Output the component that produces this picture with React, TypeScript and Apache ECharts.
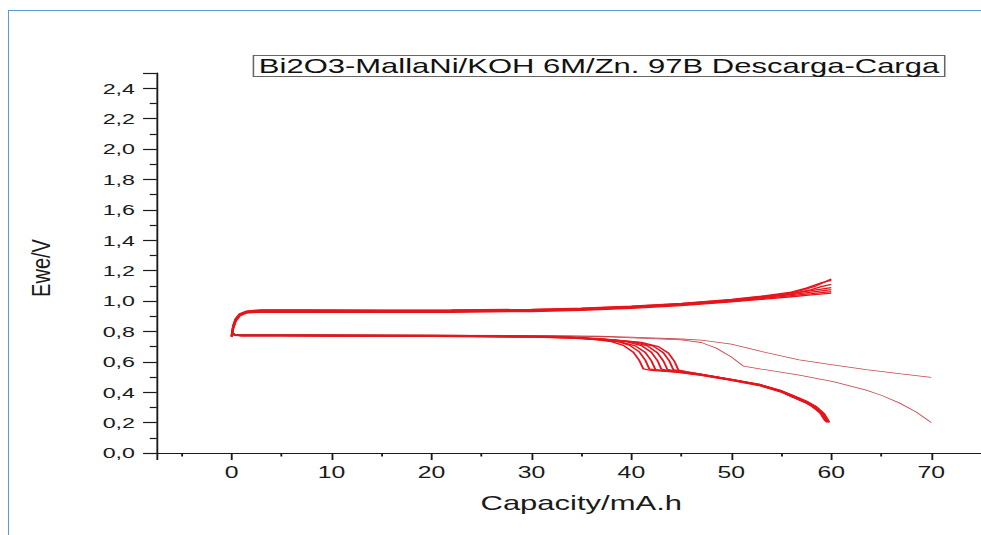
import React, { useEffect, useRef } from "react";
import * as echarts from "echarts";

// The reference picture is horizontally stretched; we draw in a narrower box and stretch it.
const S = 1.55;
const W = 981 / S;

const titleText = "Bi2O3-MallaNi/KOH 6M/Zn. 97B Descarga-Carga";
const xName = "Capacity/mA.h";
const yName = "Ewe/V";

// Charge curves [capacity, voltage]
const charge1 = [[0,0.765],[0.15,0.82],[0.4,0.87],[0.8,0.905],[1.5,0.925],[3,0.932],[8,0.931],[15,0.93],[22,0.931],[30,0.936],[35,0.943],[40,0.956],[45,0.974],[50,0.998],[53,1.015],[56,1.035],[58,1.048],[60,1.062]];
const charge2 = [[0,0.77],[0.15,0.83],[0.4,0.875],[0.8,0.91],[1.5,0.928],[3,0.937],[8,0.936],[15,0.935],[22,0.936],[30,0.94],[35,0.948],[40,0.96],[45,0.979],[50,1.005],[53,1.022],[56,1.042],[58,1.058],[60,1.075]];
const charge3 = [[0,0.772],[0.15,0.835],[0.4,0.88],[0.8,0.913],[1.5,0.932],[3,0.94],[8,0.939],[15,0.938],[22,0.939],[30,0.943],[35,0.951],[40,0.964],[45,0.983],[50,1.008],[53,1.028],[56,1.05],[58,1.068],[60,1.088]];
const charge4 = [[0,0.768],[0.15,0.825],[0.4,0.872],[0.8,0.908],[1.5,0.926],[3,0.933],[8,0.932],[15,0.931],[22,0.932],[30,0.937],[35,0.944],[40,0.957],[45,0.975],[50,1.0],[53,1.02],[56,1.045],[58,1.075],[59,1.095],[60,1.11]];
const charge5 = [[0,0.775],[0.15,0.84],[0.4,0.885],[0.8,0.916],[1.5,0.934],[3,0.942],[8,0.941],[15,0.94],[22,0.941],[30,0.945],[35,0.953],[40,0.966],[45,0.985],[50,1.01],[53,1.032],[56,1.058],[57.5,1.085],[59,1.12],[60,1.135]];
const charge6 = [[0,0.762],[0.15,0.815],[0.4,0.865],[0.8,0.902],[1.5,0.921],[3,0.927],[8,0.926],[15,0.925],[22,0.926],[30,0.931],[35,0.938],[40,0.951],[45,0.969],[50,0.994],[53,1.01],[56,1.028],[58,1.04],[60,1.052]];
const charge7 = [[0,0.77],[0.15,0.83],[0.4,0.878],[0.8,0.911],[1.5,0.929],[3,0.936],[8,0.935],[15,0.934],[22,0.935],[30,0.939],[35,0.947],[40,0.96],[45,0.979],[50,1.005],[55,1.04],[57,1.07],[58.5,1.1],[60,1.145]];

// Discharge curves (main bundle)
const discharge1 = [[0,0.79],[0.3,0.776],[1,0.772],[5,0.772],[10,0.771],[20,0.769],[30,0.764],[34,0.758],[36,0.75],[38,0.733],[39.2,0.708],[40.2,0.663],[40.8,0.608],[41.2,0.553],[42,0.543],[44.5,0.533],[47,0.513],[50,0.48],[52.8,0.446],[55,0.403],[56.1,0.37],[57.5,0.33],[58.2,0.303],[59,0.26],[59.5,0.205]];
const discharge2 = [[0,0.792],[0.3,0.779],[1,0.775],[5,0.775],[10,0.774],[20,0.772],[30,0.767],[34,0.761],[36.5,0.75],[38.5,0.735],[39.8,0.71],[40.8,0.665],[41.4,0.61],[41.8,0.553],[42.5,0.546],[44.5,0.536],[47,0.516],[50,0.483],[52.8,0.449],[55,0.407],[56.1,0.375],[57.5,0.335],[58.3,0.305],[59.1,0.26],[59.6,0.205]];
const discharge3 = [[0,0.788],[0.3,0.774],[1,0.77],[5,0.77],[10,0.769],[20,0.767],[30,0.762],[34,0.756],[37,0.745],[39,0.73],[40.4,0.705],[41.4,0.661],[42,0.607],[42.4,0.549],[43,0.542],[44.5,0.532],[47,0.511],[50,0.478],[52.8,0.444],[55,0.401],[56.2,0.367],[57.6,0.327],[58.4,0.297],[59.2,0.253],[59.7,0.205]];
const discharge4 = [[0,0.791],[0.3,0.781],[1,0.777],[5,0.777],[10,0.776],[20,0.774],[30,0.769],[34,0.763],[37,0.753],[39.5,0.733],[41,0.707],[42,0.663],[42.6,0.609],[43,0.551],[43.6,0.544],[45,0.533],[47,0.518],[50,0.485],[52.8,0.451],[55,0.409],[56.2,0.377],[57.6,0.337],[58.4,0.307],[59.2,0.263],[59.8,0.205]];
const discharge5 = [[0,0.787],[0.3,0.776],[1,0.772],[5,0.772],[10,0.771],[20,0.769],[30,0.764],[34,0.758],[37.5,0.746],[40,0.731],[41.6,0.705],[42.6,0.66],[43.2,0.606],[43.6,0.55],[44.2,0.542],[45.5,0.53],[47,0.515],[50,0.481],[52.8,0.446],[55,0.403],[56,0.372],[57.4,0.333],[58.1,0.305],[58.9,0.262],[59.4,0.21]];
const discharge6 = [[0,0.79],[0.3,0.778],[1,0.774],[5,0.774],[10,0.773],[20,0.771],[30,0.766],[34,0.76],[38,0.745],[40.5,0.73],[42.2,0.703],[43.2,0.66],[43.8,0.605],[44.2,0.548],[45,0.538],[47,0.518],[50,0.485],[52.8,0.451],[55,0.41],[56.2,0.378],[57.6,0.338],[58.5,0.305],[59.3,0.258],[59.8,0.2]];
const discharge7 = [[0,0.789],[0.3,0.777],[1,0.773],[5,0.773],[10,0.772],[20,0.77],[30,0.765],[34,0.759],[38.5,0.742],[41,0.728],[42.7,0.7],[43.7,0.658],[44.3,0.604],[44.7,0.546],[45.5,0.536],[47.5,0.512],[50,0.483],[52.8,0.449],[55,0.406],[56.1,0.374],[57.5,0.334],[58.3,0.304],[59.1,0.258],[59.6,0.2]];

// Two longer discharge cycles
const dischargeLongA = [[0,0.795],[0.3,0.782],[1,0.778],[10,0.777],[20,0.776],[30,0.774],[36.8,0.768],[40,0.762],[45,0.75],[47,0.742],[50,0.716],[53,0.668],[56.8,0.612],[60,0.582],[63.5,0.548],[67,0.52],[70,0.498]];
const dischargeLongB = [[0,0.795],[0.3,0.782],[1,0.778],[10,0.777],[20,0.775],[30,0.772],[36.8,0.765],[40,0.758],[45,0.744],[47,0.727],[48.5,0.69],[50,0.632],[51.2,0.572],[53,0.552],[56.8,0.513],[60.2,0.47],[63.5,0.414],[65,0.38],[66.8,0.33],[68.5,0.27],[70,0.2]];

const mainCurves = [charge1, charge2, charge3, charge4, charge5, charge6, charge7, discharge1, discharge2, discharge3, discharge4, discharge5, discharge6, discharge7];
const longCurves = [dischargeLongA, dischargeLongB];

const FONT = "'Liberation Sans', Arial, sans-serif";
const AXIS = "#1a1a1a";

export default function App() {
  const ref = useRef<HTMLDivElement>(null);
  useEffect(() => {
    if (!ref.current) return;
    const chart = echarts.init(ref.current, null, { renderer: "svg" });
    const series: any[] = [];
    mainCurves.forEach((d) =>
      series.push({
        type: "line",
        data: d,
        showSymbol: false,
        silent: true,
        lineStyle: { color: "#e8141c", width: 1.3 },
      })
    );
    longCurves.forEach((d) =>
      series.push({
        type: "line",
        data: d,
        showSymbol: false,
        silent: true,
        lineStyle: { color: "#c0282e", width: 0.8, opacity: 0.85 },
      })
    );
    chart.setOption({
      animation: false,
      title: {
        text: titleText,
        left: 163,
        top: 55,
        padding: [1, 4, 1, 4],
        borderColor: "#666",
        borderWidth: 1,
        textStyle: { fontSize: 20, fontWeight: "normal", fontFamily: FONT, color: "#111" },
      },
      grid: { left: 101.1, right: -0.5, top: 73, bottom: 82 },
      xAxis: {
        type: "value",
        min: -7.5,
        max: 75,
        splitNumber: 8,
        axisLine: { onZero: false, lineStyle: { color: AXIS, width: 1.2 } },
        axisTick: { length: 7, lineStyle: { color: AXIS, width: 1.2 } },
        minorTick: { show: true, splitNumber: 2, length: 3.5, lineStyle: { color: AXIS, width: 1.2 } },
        splitLine: { show: false },
        minorSplitLine: { show: false },
        axisLabel: {
          showMinLabel: false,
          showMaxLabel: false,
          fontSize: 16,
          margin: 11,
          color: AXIS,
          fontFamily: FONT,
        },
      },
      yAxis: {
        type: "value",
        min: 0,
        max: 2.5,
        interval: 0.2,
        axisLine: { show: true, onZero: false, lineStyle: { color: AXIS, width: 1.2 } },
        axisTick: { show: true, length: 8.8, lineStyle: { color: AXIS, width: 1.2 } },
        minorTick: { show: true, splitNumber: 2, length: 4.5, lineStyle: { color: AXIS, width: 1.2 } },
        splitLine: { show: false },
        minorSplitLine: { show: false },
        axisLabel: {
          showMaxLabel: false,
          fontSize: 15,
          margin: 14,
          color: AXIS,
          fontFamily: FONT,
          formatter: (v: number) => v.toFixed(1).replace(".", ","),
        },
      },
      graphic: [
        {
          type: "text",
          x: 375,
          y: 503,
          style: {
            text: xName,
            fontSize: 20,
            fontFamily: FONT,
            fill: AXIS,
            align: "center",
            verticalAlign: "middle",
            textAlign: "center",
            textVerticalAlign: "middle",
          },
        },
        {
          type: "text",
          x: 26.3,
          y: 268,
          rotation: Math.PI / 2,
          scaleY: 0.82,
          style: {
            text: yName,
            fontSize: 20,
            fontFamily: FONT,
            fill: AXIS,
            align: "center",
            verticalAlign: "middle",
            textAlign: "center",
            textVerticalAlign: "middle",
          },
        },
      ],
      series,
    });
    return () => chart.dispose();
  }, []);

  return (
    <div style={{ position: "fixed", left: 0, top: 0, width: 981, height: 535, background: "#fff", overflow: "hidden" }}>
      <div
        style={{
          position: "absolute",
          left: 8,
          top: 10,
          right: -10,
          bottom: -10,
          borderLeft: "1.5px solid #5b9bd5",
          borderTop: "1.5px solid #5b9bd5",
        }}
      />
      <div
        ref={ref}
        style={{
          position: "absolute",
          left: 0,
          top: 0,
          width: W,
          height: 535,
          transform: `scaleX(${S})`,
          transformOrigin: "0 0",
        }}
      />
    </div>
  );
}
